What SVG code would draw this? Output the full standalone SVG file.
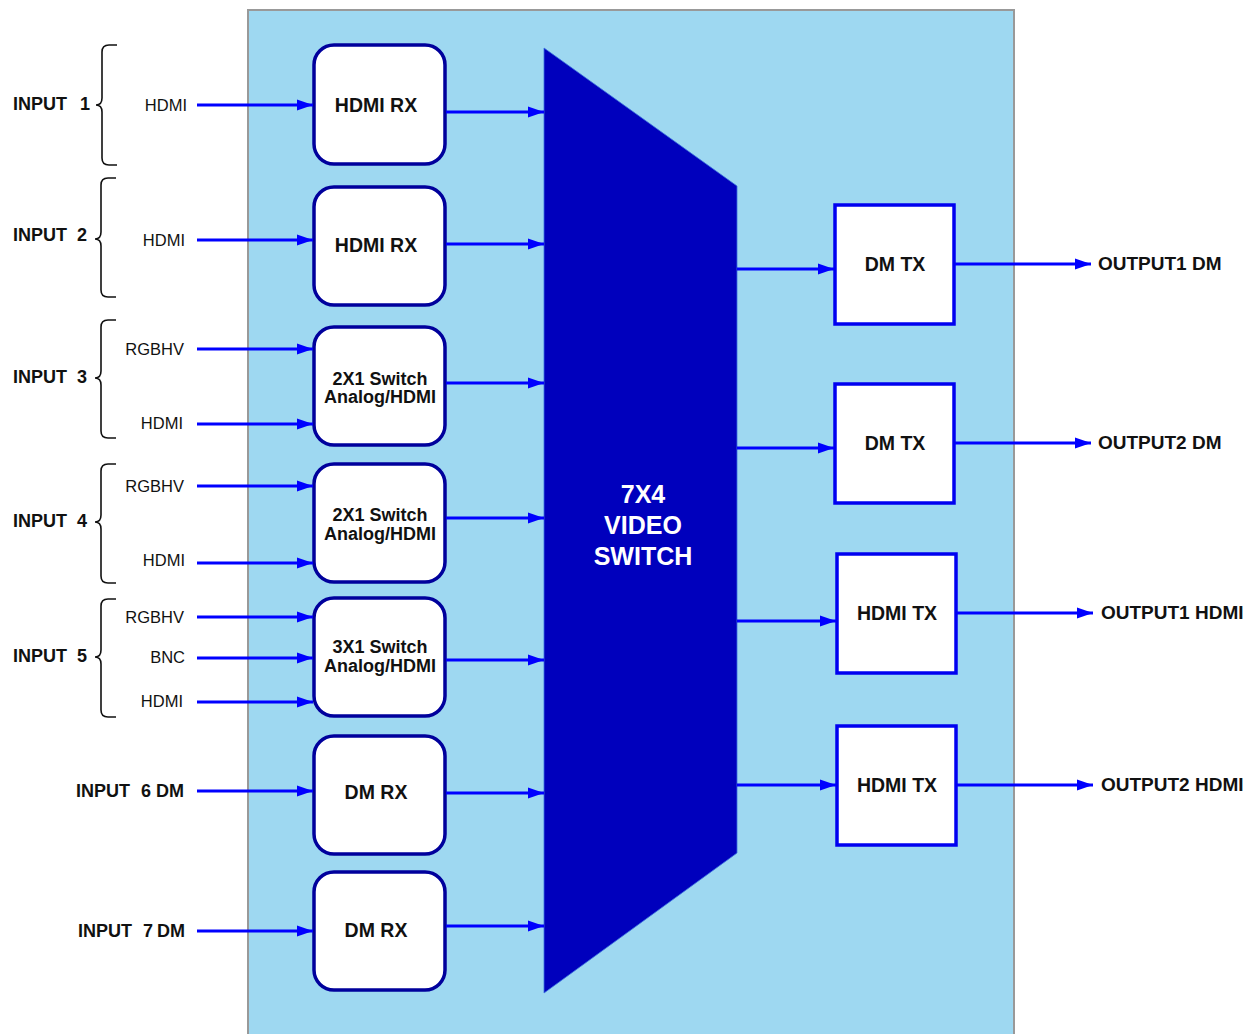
<svg xmlns="http://www.w3.org/2000/svg" width="1243" height="1034" viewBox="0 0 1243 1034">
<style>
.lbl{font-family:"Liberation Sans",Arial,sans-serif;font-weight:bold;font-size:18px;fill:#111}
.out{font-family:"Liberation Sans",Arial,sans-serif;font-weight:bold;font-size:19px;fill:#111}
.sig{font-family:"Liberation Sans",Arial,sans-serif;font-size:16.5px;fill:#111;text-anchor:end}
.btx{font-family:"Liberation Sans",Arial,sans-serif;font-weight:bold;font-size:19.5px;fill:#111;text-anchor:middle}
.stx{font-family:"Liberation Sans",Arial,sans-serif;font-weight:bold;font-size:18px;fill:#111;text-anchor:middle}
.big{font-family:"Liberation Sans",Arial,sans-serif;font-weight:bold;font-size:25px;fill:#fff;text-anchor:middle}
.rx{fill:#fff;stroke:#00009c;stroke-width:3.5}
.tx{fill:#fff;stroke:#0000f0;stroke-width:3.5}
.brace{fill:none;stroke:#111;stroke-width:1.6}
.conn path{fill:none;stroke:#0000ff;stroke-width:3;marker-end:url(#ah)}
</style>
<defs>
<marker id="ah" markerUnits="userSpaceOnUse" markerWidth="17" markerHeight="12" refX="16" refY="6" orient="auto">
<path d="M0,0.5 L16,6 L0,11.5 z" fill="#0000ff"/>
</marker>
</defs>
<rect width="1243" height="1034" fill="#fff"/>
<rect id="chassis" x="248" y="10" width="766" height="1030" fill="#9ed8f1" stroke="#999" stroke-width="2"/>

<g id="braces">
<path class="brace" d="M117,45 H109 Q102,45 102,52 V98 Q102,105 96,105 Q102,105 102,112 V158 Q102,165 109,165 H117"/>
<path class="brace" d="M116,178 H108 Q101,178 101,185 V232 Q101,239 95,239 Q101,239 101,246 V290 Q101,297 108,297 H116"/>
<path class="brace" d="M116,320 H108 Q101,320 101,327 V371 Q101,378 95,378 Q101,378 101,385 V431 Q101,438 108,438 H116"/>
<path class="brace" d="M116,464 H108 Q101,464 101,471 V515 Q101,522 95,522 Q101,522 101,529 V576 Q101,583 108,583 H116"/>
<path class="brace" d="M116,599 H108 Q101,599 101,606 V650 Q101,657 95,657 Q101,657 101,664 V710 Q101,717 108,717 H116"/>
</g>

<g id="input-labels">
<text class="lbl" x="13" y="110">INPUT<tspan x="80">1</tspan></text>
<text class="lbl" x="13" y="241">INPUT<tspan x="77">2</tspan></text>
<text class="lbl" x="13" y="383">INPUT<tspan x="77">3</tspan></text>
<text class="lbl" x="13" y="527">INPUT<tspan x="77">4</tspan></text>
<text class="lbl" x="13" y="662">INPUT<tspan x="77">5</tspan></text>
<text class="lbl" x="76" y="797">INPUT<tspan x="141">6</tspan><tspan x="156">DM</tspan></text>
<text class="lbl" x="78" y="937">INPUT<tspan x="143">7</tspan><tspan x="157">DM</tspan></text>
<text class="sig" x="187" y="111">HDMI</text>
<text class="sig" x="185" y="246">HDMI</text>
<text class="sig" x="184" y="355">RGBHV</text>
<text class="sig" x="183" y="429">HDMI</text>
<text class="sig" x="184" y="492">RGBHV</text>
<text class="sig" x="185" y="566">HDMI</text>
<text class="sig" x="184" y="623">RGBHV</text>
<text class="sig" x="185" y="663">BNC</text>
<text class="sig" x="183" y="707">HDMI</text>
</g>

<g id="rx1"><rect class="rx" x="314" y="45" width="131" height="119" rx="20"/><text class="btx" x="376" y="112">HDMI RX</text></g>
<g id="rx2"><rect class="rx" x="314" y="187" width="131" height="118" rx="20"/><text class="btx" x="376" y="252">HDMI RX</text></g>
<g id="sw3"><rect class="rx" x="314" y="327" width="131" height="118" rx="20"/><text class="stx" x="380" y="385">2X1 Switch</text><text class="stx" x="380" y="403">Analog/HDMI</text></g>
<g id="sw4"><rect class="rx" x="314" y="464" width="131" height="118" rx="20"/><text class="stx" x="380" y="521">2X1 Switch</text><text class="stx" x="380" y="540">Analog/HDMI</text></g>
<g id="sw5"><rect class="rx" x="314" y="598" width="131" height="118" rx="20"/><text class="stx" x="380" y="653">3X1 Switch</text><text class="stx" x="380" y="672">Analog/HDMI</text></g>
<g id="dmrx6"><rect class="rx" x="314" y="736" width="131" height="118" rx="20"/><text class="btx" x="376" y="799">DM RX</text></g>
<g id="dmrx7"><rect class="rx" x="314" y="872" width="131" height="118" rx="20"/><text class="btx" x="376" y="937">DM RX</text></g>

<g id="switch">
<polygon points="544,48 737,186 737,853 544,993" fill="#0000bd" stroke="#3a6ee0" stroke-width="0.8"/>
<text class="big" x="643" y="503">7X4</text>
<text class="big" x="643" y="534">VIDEO</text>
<text class="big" x="643" y="565">SWITCH</text>
</g>

<g id="dmtx1"><rect class="tx" x="835" y="205" width="119" height="119"/><text class="btx" x="895" y="271">DM TX</text></g>
<g id="dmtx2"><rect class="tx" x="835" y="384" width="119" height="119"/><text class="btx" x="895" y="450">DM TX</text></g>
<g id="hdmitx1"><rect class="tx" x="837" y="554" width="119" height="119"/><text class="btx" x="897" y="620">HDMI TX</text></g>
<g id="hdmitx2"><rect class="tx" x="837" y="726" width="119" height="119"/><text class="btx" x="897" y="792">HDMI TX</text></g>

<g id="output-labels">
<text class="out" x="1098" y="270">OUTPUT1 DM</text>
<text class="out" x="1098" y="449">OUTPUT2 DM</text>
<text class="out" x="1101" y="619">OUTPUT1 HDMI</text>
<text class="out" x="1101" y="791">OUTPUT2 HDMI</text>
</g>

<g id="connectors" class="conn">
<path d="M197,105 H313"/>
<path d="M197,240 H313"/>
<path d="M197,349 H313"/>
<path d="M197,424 H313"/>
<path d="M197,486 H313"/>
<path d="M197,563 H313"/>
<path d="M197,617 H313"/>
<path d="M197,658 H313"/>
<path d="M197,702 H313"/>
<path d="M197,791 H313"/>
<path d="M197,931 H313"/>
<path d="M446,112 H544"/>
<path d="M446,244 H544"/>
<path d="M446,383 H544"/>
<path d="M446,518 H544"/>
<path d="M446,660 H544"/>
<path d="M446,793 H544"/>
<path d="M446,926 H544"/>
<path d="M737,269 H834"/>
<path d="M737,448 H834"/>
<path d="M737,621 H836"/>
<path d="M737,785 H836"/>
<path d="M955,264 H1091"/>
<path d="M955,443 H1091"/>
<path d="M957,613 H1093"/>
<path d="M957,785 H1093"/>
</g>
</svg>
